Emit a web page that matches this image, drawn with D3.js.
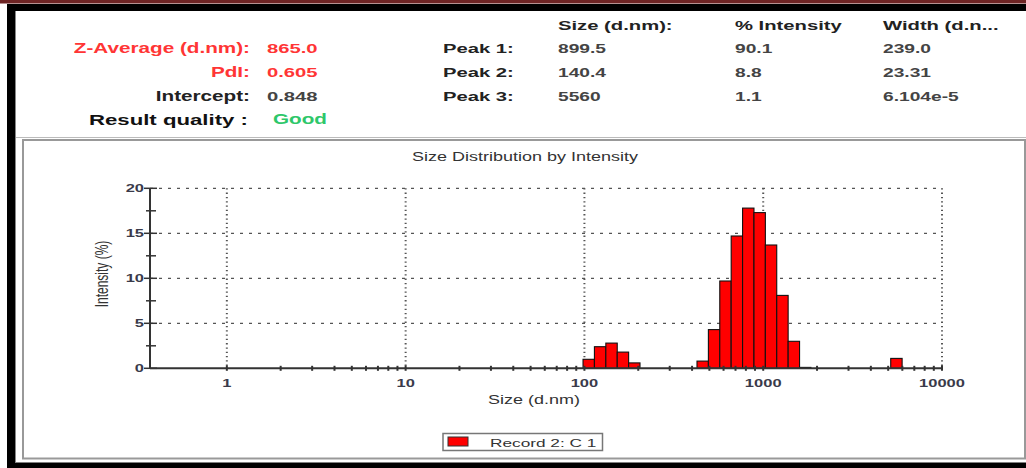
<!DOCTYPE html>
<html>
<head>
<meta charset="utf-8">
<script src="https://cdn.jsdelivr.net/npm/d3@7"></script>
<style>
  body { margin: 0; background: #fff; }
  svg { display: block; font-family: "Liberation Sans", Arial, sans-serif; }
</style>
</head>
<body>
<div id="chart"></div>
<script>
// size classes (d.nm) and intensity (%)
const sizes = [105.7, 122.4, 141.8, 164.2, 190.1, 458.7, 531.2, 615.1, 712.4, 825.0, 955.4, 1106, 1281, 1484, 1718, 5560];
const intensity = [1.0, 2.4, 2.8, 1.8, 0.6, 0.8, 4.3, 9.7, 14.7, 17.8, 17.3, 13.7, 8.1, 3.0, 0.1, 1.1];

const xTicks = [1, 10, 100, 1000, 10000];
const yTicks = [0, 5, 10, 15, 20];

// result summary
const summaryLabels = ["Z-Average (d.nm):", "PdI:", "Intercept:"];
const summaryValues = ["865.0", "0.605", "0.848"];
const peakLabels = ["Peak 1:", "Peak 2:", "Peak 3:"];
const peakSize = ["899.5", "140.4", "5560"];
const peakIntensity = ["90.1", "8.8", "1.1"];
const peakWidth = ["239.0", "23.31", "6.104e-5"];
const peakHeaders = ["Size (d.nm):", "% Intensity", "Width (d.n..."];

const width = 1026, height = 468;
const SX = 1.5; // the original screenshot is stretched sideways
const binRatio = Math.pow(10000 / 0.4, 1 / 69);

let svg = d3.select("#chart")
    .append("svg")
    .attr("width", width)
    .attr("height", height);

// stretched text helper
function stext(parent, x, y, str, size, opts) {
    opts = opts || {};
    let g = parent.append("g")
        .attr("transform", `translate(${x}, ${y}) scale(${SX}, 1)` + (opts.rotate ? ` rotate(${opts.rotate})` : ""));
    return g.append("text")
        .attr("x", 0)
        .attr("y", 0)
        .attr("font-size", size)
        .attr("font-weight", opts.bold ? "bold" : "normal")
        .attr("fill", opts.color || "#222")
        .style("text-anchor", opts.anchor || "start")
        .text(str);
}

// frame
svg.append("rect").attr("x", 0).attr("y", 0).attr("width", width).attr("height", 3.5).attr("fill", "#6e2424");
svg.append("rect").attr("x", 7).attr("y", 4).attr("width", width - 7).attr("height", 7).attr("fill", "#000");
svg.append("rect").attr("x", 7).attr("y", 4).attr("width", 8).attr("height", height - 4).attr("fill", "#000");
svg.append("rect").attr("x", 7).attr("y", 462.5).attr("width", width - 7).attr("height", 6).attr("fill", "#000");
svg.append("line").attr("x1", 15.5).attr("x2", 15.5).attr("y1", 11).attr("y2", 462).attr("stroke", "#888").attr("stroke-width", 1);

// chart panel
svg.append("line").attr("x1", 16).attr("x2", width).attr("y1", 137.5).attr("y2", 137.5)
    .attr("stroke", "#bbb").attr("stroke-width", 1);
svg.append("rect")
    .attr("x", 23).attr("y", 140).attr("width", width - 24).attr("height", 318.5)
    .attr("fill", "#fff").attr("stroke", "#999").attr("stroke-width", 2);

// summary table
let table = svg.append("g");
const rowY = [52.5, 76.5, 100.5];
const red = "#ff3535";
summaryLabels.forEach(function(d, i) {
    let c = i < 2 ? red : "#222";
    stext(table, 250, rowY[i], d, 13.8, {bold: true, anchor: "end", color: c});
    stext(table, 267, rowY[i], summaryValues[i], 13.5, {bold: true, color: i < 2 ? red : "#444"});
});
stext(table, 248, 124.5, "Result quality :", 14.8, {bold: true, anchor: "end", color: "#111"});
stext(table, 273, 124, "Good", 13.8, {bold: true, color: "#2ec76a"});

const colX = [558, 735, 883];
peakHeaders.forEach(function(d, i) {
    stext(table, colX[i], 29.5, d, 13.5, {bold: true, color: "#222"});
});
peakLabels.forEach(function(d, i) {
    stext(table, 443, rowY[i], d, 13.5, {bold: true, color: "#222"});
    stext(table, colX[0], rowY[i], peakSize[i], 12.8, {bold: true, color: "#444"});
    stext(table, colX[1], rowY[i], peakIntensity[i], 12.8, {bold: true, color: "#444"});
    stext(table, colX[2], rowY[i], peakWidth[i], 12.8, {bold: true, color: "#444"});
});

// scales
let x = d3.scaleLog()
    .domain([0.4 / Math.sqrt(binRatio), 10000])
    .range([150, 942]);

let y = d3.scaleLinear()
    .domain([0, 20])
    .range([368.3, 188.3]);

let plot = svg.append("g");

// grid
plot.selectAll(".hgrid")
    .data(yTicks.filter(d => d > 0))
    .enter()
    .append("line")
    .attr("x1", x.range()[0]).attr("x2", x.range()[1])
    .attr("y1", d => y(d)).attr("y2", d => y(d))
    .attr("stroke", "#555").attr("stroke-width", 1.3)
    .attr("stroke-dasharray", "3,6");

plot.selectAll(".vgrid")
    .data(xTicks)
    .enter()
    .append("line")
    .attr("x1", d => x(d)).attr("x2", d => x(d))
    .attr("y1", y(20)).attr("y2", y(0))
    .attr("stroke", "#555").attr("stroke-width", 2)
    .attr("stroke-dasharray", "1.3,3");

// bars
plot.selectAll("rect.bar")
    .data(sizes)
    .enter()
    .append("rect")
    .attr("class", "bar")
    .attr("x", d => x(d / Math.sqrt(binRatio)))
    .attr("width", d => x(d * Math.sqrt(binRatio)) - x(d / Math.sqrt(binRatio)))
    .attr("y", (d, i) => y(intensity[i]))
    .attr("height", (d, i) => y(0) - y(intensity[i]))
    .attr("fill", "#ff0000")
    .attr("stroke", "#111")
    .attr("stroke-width", 1.1);

// y axis
plot.append("line")
    .attr("x1", 150).attr("x2", 150).attr("y1", y(20)).attr("y2", y(0))
    .attr("stroke", "#333").attr("stroke-width", 2);
plot.selectAll(".ytick")
    .data(yTicks)
    .enter()
    .append("line")
    .attr("x1", 144).attr("x2", 157)
    .attr("y1", d => y(d)).attr("y2", d => y(d))
    .attr("stroke", "#333").attr("stroke-width", 1.5);
plot.selectAll(".yminor")
    .data(yTicks.slice(1).map(d => d - 2.5))
    .enter()
    .append("line")
    .attr("x1", 146).attr("x2", 156)
    .attr("y1", d => y(d)).attr("y2", d => y(d))
    .attr("stroke", "#333").attr("stroke-width", 1.5);
yTicks.forEach(function(d) {
    stext(plot, 144, y(d) + 4, d, 11, {bold: true, anchor: "end", color: "#3a3a4a"});
});

// x axis
plot.append("line")
    .attr("x1", 150).attr("x2", 942).attr("y1", y(0)).attr("y2", y(0))
    .attr("stroke", "#333").attr("stroke-width", 2);
let minor = [];
xTicks.slice(0, 4).forEach(function(dec) {
    for (let k = 2; k <= 9; k++) minor.push(dec * k);
});
plot.selectAll(".xtick")
    .data(xTicks.concat(minor))
    .enter()
    .append("line")
    .attr("x1", d => x(d)).attr("x2", d => x(d))
    .attr("y1", y(0) - 2.5).attr("y2", y(0) + 2.5)
    .attr("stroke", "#333").attr("stroke-width", 2);
xTicks.forEach(function(d) {
    stext(plot, x(d), 386.7, d, 11, {bold: true, anchor: "middle", color: "#3a3a4a"});
});

// titles
stext(svg, 525, 160.5, "Size Distribution by Intensity", 12, {anchor: "middle", color: "#333"});
stext(svg, 534, 404, "Size (d.nm)", 12, {anchor: "middle", color: "#333"});
stext(svg, 108, 274, "Intensity (%)", 12, {anchor: "middle", color: "#333", rotate: -90});

// legend
let legend = svg.append("g");
legend.append("rect")
    .attr("x", 443).attr("y", 433.5).attr("width", 159.5).attr("height", 17)
    .attr("fill", "#fff").attr("stroke", "#777").attr("stroke-width", 1.5);
legend.append("rect")
    .attr("x", 448).attr("y", 437).attr("width", 20).attr("height", 9)
    .attr("fill", "#ff0000").attr("stroke", "#333").attr("stroke-width", 1);
stext(legend, 490, 446.5, "Record 2: C 1", 11.5, {color: "#333"});
</script>
</body>
</html>
